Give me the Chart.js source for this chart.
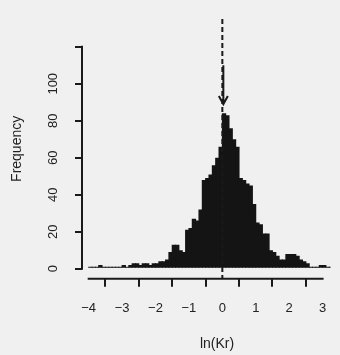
<!DOCTYPE html>
<html><head><meta charset="utf-8">
<script src="https://cdn.jsdelivr.net/npm/chart.js@4/dist/chart.umd.min.js"></script>
<style>html,body{margin:0;padding:0;background:#f0f0f0;overflow:hidden}#wrap{width:340px;height:355px}</style>
</head><body><div id="wrap"><canvas id="c" width="340" height="355"></canvas></div>
<script>
// histogram bins (centres of 0.1-wide bins of ln(Kr)) and their frequencies
const binCenters = [
 -3.95,-3.85,-3.75,-3.65,-3.55,-3.45,-3.35,-3.25,-3.15,-3.05,
 -2.95,-2.85,-2.75,-2.65,-2.55,-2.45,-2.35,-2.25,-2.15,-2.05,
 -1.95,-1.85,-1.75,-1.65,-1.55,-1.45,-1.35,-1.25,-1.15,-1.05,
 -0.95,-0.85,-0.75,-0.65,-0.55,-0.45,-0.35,-0.25,-0.15,-0.05,
  0.05, 0.15, 0.25, 0.35, 0.45, 0.55, 0.65, 0.75, 0.85, 0.95,
  1.05, 1.15, 1.25, 1.35, 1.45, 1.55, 1.65, 1.75, 1.85, 1.95,
  2.05, 2.15, 2.25, 2.35, 2.45, 2.55, 2.65, 2.75, 2.85, 2.95,
  3.05, 3.15, 3.25, 3.35, 3.45, 3.55];
const counts = [
  1, 1, 1, 2, 1, 1, 1, 1, 1, 1,
  2, 1, 2, 3, 3, 2, 3, 3, 2, 3,
  3, 4, 4, 5, 9,13,13,10, 9,21,
 22,27,26,32,48,49,51,56,60,66,
 84,83,76,70,66,49,48,46,45,35,
 25,24,19,19,10, 9, 7, 5, 5, 8,
  8, 8, 7, 5, 4, 3, 1, 1, 1, 2,
  2, 1, 1, 1, 1, 0];
const xTickValues = [-4,-3,-2,-1,0,1,2,3];
const xTickLabels = ['\u22124','\u22123','\u22122','\u22121','0','1','2','3'];
const yTickValues = [0,20,40,60,80,100,120];
const yTickLabels = ['0','20','40','60','80','100',''];
const xTitle = 'ln(Kr)';
const yTitle = 'Frequency';
const refValue = 0;        // dashed reference line position
const arrowFrom = 110;     // arrow start (frequency units)
const arrowTo = 89;        // arrow tip (frequency units)

const INK = '#1a1a1a';
const TXT = '#222';
const FONT = "'Liberation Sans', Arial, sans-serif";

const rPlot = {
  id: 'rPlot',
  beforeDraw(chart) {
    const ctx = chart.ctx;
    ctx.save(); ctx.fillStyle = '#f0f0f0'; ctx.fillRect(0, 0, chart.width, chart.height); ctx.restore();
  },
  afterDatasetsDraw(chart) {
    const {ctx, chartArea, scales: {x, y}} = chart;
    ctx.save();
    ctx.strokeStyle = INK; ctx.lineWidth = 2; ctx.lineCap = 'butt';
    // y axis line
    ctx.beginPath();
    ctx.moveTo(chartArea.left, y.getPixelForValue(yTickValues[0]) + 1);
    ctx.lineTo(chartArea.left, y.getPixelForValue(yTickValues[yTickValues.length - 1]) - 1);
    ctx.stroke();
    // x axis line
    ctx.beginPath();
    ctx.moveTo(x.getPixelForValue(xTickValues[0]) - 1, chartArea.bottom);
    ctx.lineTo(x.getPixelForValue(xTickValues[xTickValues.length - 1]) + 1, chartArea.bottom);
    ctx.stroke();
    // dashed reference line
    const rx = x.getPixelForValue(refValue);
    ctx.setLineDash([5, 3]);
    ctx.beginPath();
    ctx.moveTo(rx, chartArea.top);
    ctx.lineTo(rx, chartArea.bottom);
    ctx.stroke();
    ctx.setLineDash([]);
    // arrow
    const y0 = y.getPixelForValue(arrowFrom), y1 = y.getPixelForValue(arrowTo);
    ctx.beginPath();
    ctx.moveTo(rx + 1, y0); ctx.lineTo(rx + 1, y1);
    ctx.moveTo(rx + 1 - 4.5, y1 - 8); ctx.lineTo(rx + 1, y1); ctx.lineTo(rx + 1 + 4.5, y1 - 8);
    ctx.stroke();
    // x axis title (centred on the full R plot region, which runs past the right edge)
    ctx.fillStyle = TXT;
    ctx.font = '14px ' + FONT;
    ctx.textAlign = 'center';
    ctx.textBaseline = 'middle';
    ctx.fillText(xTitle, chartArea.left + 135, chart.height - 11.2);
    ctx.restore();
  }
};

new Chart(document.getElementById('c'), {
  type: 'bar',
  data: {
    datasets: [{
      data: binCenters.map((c, i) => ({x: c, y: counts[i]})),
      backgroundColor: '#141414',
      borderWidth: 0,
      barPercentage: 1.3,
      categoryPercentage: 1
    }]
  },
  options: {
    responsive: false,
    animation: false,
    devicePixelRatio: 1,
    layout: {padding: {top: 10, right: 0, bottom: 0, left: 0}},
    plugins: {legend: {display: false}, tooltip: {enabled: false}},
    scales: {
      x: {
        type: 'linear', min: -4.2, max: 3.24, offset: false,
        afterBuildTicks: s => { s.ticks = xTickValues.map(v => ({value: v})); },
        afterFit: s => { s.height = 76.3; },
        border: {display: false},
        grid: {drawOnChartArea: false, drawTicks: true, tickLength: 8, color: INK, lineWidth: 2},
        ticks: {color: TXT, font: {family: FONT, size: 13}, padding: 13.8, maxRotation: 0, autoSkip: false,
          callback: (v, i) => xTickLabels[i]},
        title: {display: false}
      },
      y: {
        min: -5.4, max: 135,
        afterBuildTicks: s => { s.ticks = yTickValues.map(v => ({value: v})); },
        afterFit: s => { s.width = 82; },
        border: {display: false},
        grid: {drawOnChartArea: false, drawTicks: true, tickLength: 7, color: INK, lineWidth: 2},
        ticks: {color: TXT, font: {family: FONT, size: 13}, padding: 11.2, minRotation: 90, maxRotation: 90,
          crossAlign: 'center', autoSkip: false, callback: (v, i) => yTickLabels[i]},
        title: {display: true, text: yTitle, color: TXT, font: {family: FONT, size: 14}, padding: {top: 8.3, bottom: 0}}
      }
    }
  },
  plugins: [rPlot]
});
</script>
</body></html>
